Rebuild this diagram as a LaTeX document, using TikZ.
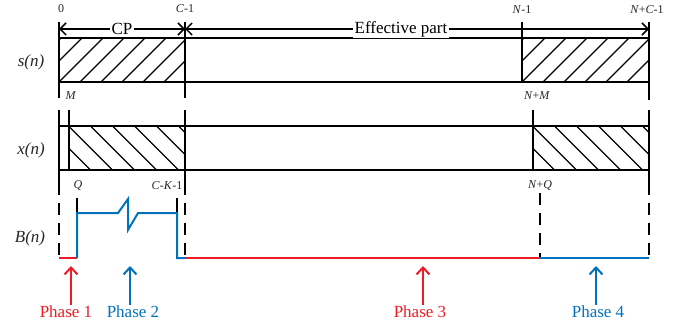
\documentclass[tikz,border=0pt]{standalone}
\usepackage{fontspec}
\setmainfont{Liberation Serif}
\usepackage{xcolor}
\usepackage{tikz}
\usetikzlibrary{arrows.meta}
\definecolor{phred}{RGB}{237,28,36}
\definecolor{phblue}{RGB}{0,114,188}
\begin{document}
\begin{tikzpicture}
[x=1pt,y=-1pt,
>={Straight Barb[length=6pt,width=12pt]},
frame/.style={draw=black,line width=2pt},
hatch/.style={line width=1.4pt},
tick/.style={line width=1.8pt},
dtick/.style={line width=1.8pt,dash pattern=on 12pt off 8pt},
arrl/.style={line width=1.5pt},
idx/.style={font=\fontsize{12}{12}\selectfont,text=black!85,inner sep=1pt},
sig/.style={font=\fontsize{17}{17}\selectfont\itshape,text=black!85},
span/.style={font=\fontsize{17}{17}\selectfont,fill=white,inner sep=1.5pt},
phase/.style={font=\fontsize{17}{17}\selectfont,inner sep=1pt},
redl/.style={draw=phred,line width=2pt},
bluel/.style={draw=phblue,line width=2pt}]

\useasboundingbox (0,0) rectangle (689,329);

\node at (31,62)  [sig] (sn) {s(n)};
\node at (31,150) [sig] (xn) {x(n)};
\node at (30,238) [sig] (bn) {B(n)};

\node at (61,9)   [idx] (l0)   {0};
\node at (185,9)  [idx] (lc1)  {\textit{C}-1};
\node at (522,10) [idx] (ln1)  {\textit{N}-1};
\node at (647,10) [idx] (lnc1) {\textit{N}+\textit{C}-1};
\node at (71,96)  [idx] (lm)   {\textit{M}};
\node at (537,96) [idx] (lnm)  {\textit{N}+\textit{M}};
\node at (78,186) [idx] (lq)   {\textit{Q}};
\node at (167,186)[idx] (lck)  {\textit{C}-\textit{K}-1};
\node at (540,186)[idx] (lnq)  {\textit{N}+\textit{Q}};

% hatching
\begin{scope}
\clip (59,38.5) rectangle (185,82);
\foreach \k in {-2,...,6} \draw[hatch] (59+21*\k,82) -- ++(43.5,-43.5);
\end{scope}
\begin{scope}
\clip (522,38.5) rectangle (649,82);
\foreach \k in {-2,...,6} \draw[hatch] (522+21*\k,82) -- ++(43.5,-43.5);
\end{scope}
\begin{scope}
\clip (69,126.5) rectangle (185,170);
\foreach \k in {-2,...,6} \draw[hatch] (69+22*\k,126.5) -- ++(43.5,43.5);
\end{scope}
\begin{scope}
\clip (533,126.5) rectangle (649,170);
\foreach \k in {-2,...,6} \draw[hatch] (533+22*\k,126.5) -- ++(43.5,43.5);
\end{scope}

\draw[frame] (59,38.5) rectangle (649,82);
\draw[frame] (59,126.5) rectangle (649,170);

% s(n) row
\draw[tick] (59,22) -- (59,98);
\draw[tick] (185,22) -- (185,98);
\draw[tick] (522,22) -- (522,82);
\draw[tick] (649,22) -- (649,100);
% x(n) row
\draw[tick] (59,110) -- (59,183);
\draw[tick] (69,110) -- (69,170);
\draw[tick] (185,110) -- (185,183);
\draw[tick] (533,110) -- (533,170);
\draw[tick] (649,110) -- (649,183);
% B(n) row
\draw[dtick] (59,183) -- (59,258);
\draw[dtick] (185,183) -- (185,258);
\draw[dtick] (540,193) -- (540,258);
\draw[dtick] (649,183) -- (649,258);
\draw[tick] (77,198) -- (77,213);
\draw[tick] (177,198) -- (177,213);

\draw[redl] (59,258) -- (77,258);
\draw[bluel] (77,258) -- (77,213) -- (118,213) -- (128,199) -- (128,230)
  -- (138,213) -- (177,213) -- (177,258) -- (185,258);
\draw[redl] (185,258) -- (540,258);
\draw[bluel] (540,258) -- (649,258);

% CP / effective part
\coordinate (a0) at (59,29);
\coordinate (a1) at (185,29);
\coordinate (a2) at (649,29);
\node at (122,29) [span] (cp)  {CP};
\node at (401,29) [span] (eff) {Effective part};
\draw[->,arrl] (cp) -- (a0);
\draw[->,arrl] (cp) -- (a1);
\draw[->,arrl] (eff) -- (a1);
\draw[->,arrl] (eff) -- (a2);

% phases
\node at (66,312)  [phase,text=phred]  (ph1) {Phase 1};
\node at (133,312) [phase,text=phblue] (ph2) {Phase 2};
\node at (420,312) [phase,text=phred]  (ph3) {Phase 3};
\node at (598,312) [phase,text=phblue] (ph4) {Phase 4};
\coordinate (t1) at (71,266);
\coordinate (t2) at (130,266);
\coordinate (t3) at (423,266);
\coordinate (t4) at (596,266);
\draw[->,redl,>={Straight Barb[length=7pt,width=13pt]}] (ph1.north -| t1) -- (t1);
\draw[->,bluel,>={Straight Barb[length=7pt,width=13pt]}] (ph2.north -| t2) -- (t2);
\draw[->,redl,>={Straight Barb[length=7pt,width=13pt]}] (ph3.north -| t3) -- (t3);
\draw[->,bluel,>={Straight Barb[length=7pt,width=13pt]}] (ph4.north -| t4) -- (t4);
\end{tikzpicture}
\end{document}
